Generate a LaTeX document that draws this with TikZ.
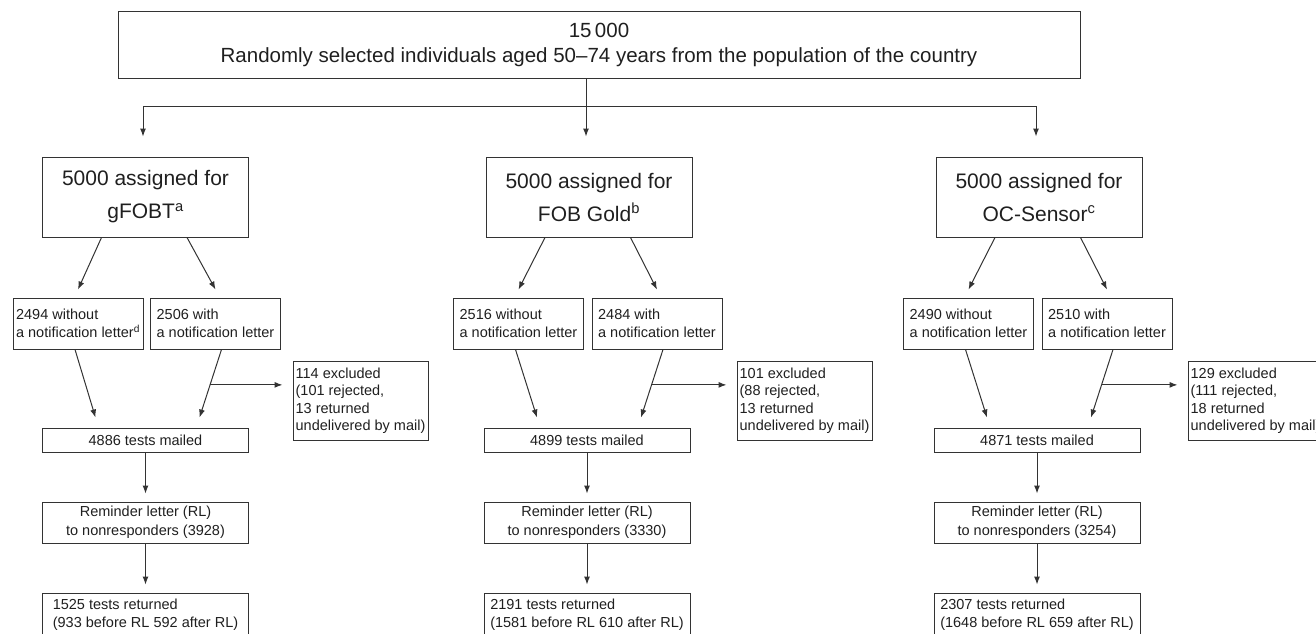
\documentclass[tikz,border=0pt]{standalone}
\usepackage{fontspec}
\setmainfont{Liberation Sans}
\usetikzlibrary{arrows.meta}

\begin{document}
\begin{tikzpicture}[x=1pt, y=-1pt,
  box/.style={draw=black!80, line width=1pt, text=black!88, inner sep=0pt, align=left},
  topbox/.style={box, align=center, minimum width=962pt, minimum height=67pt, font=\fontsize{20.5}{25}\selectfont},
  grpbox/.style={box, align=center, minimum width=206pt, minimum height=80pt, font=\fontsize{21}{33}\selectfont},
  subbox/.style={box, minimum width=130pt, minimum height=51pt, font=\fontsize{14.5}{18.5}\selectfont},
  exbox/.style={box, minimum width=135pt, minimum height=79pt, font=\fontsize{14.5}{17.5}\selectfont},
  mailbox/.style={box, minimum width=206pt, minimum height=24pt, font=\fontsize{14.5}{18}\selectfont},
  remindbox/.style={box, align=center, minimum width=206pt, minimum height=41pt, font=\fontsize{14.5}{19}\selectfont},
  retbox/.style={box, minimum width=206pt, minimum height=44pt, font=\fontsize{14.5}{18}\selectfont},
  line/.style={draw=black!80, line width=1pt},
  arr/.style={line, -{Latex[length=8pt,width=6pt]}}]
\useasboundingbox (0,0) rectangle (1316,633);
\clip (0,0) rectangle (1316,633);

% whole population
\node[topbox] (pop) at (599,44.5) {15\,000\\Randomly selected individuals aged 50--74 years from the population of the country};
\coordinate (split) at (586,106);

% gFOBT
\node[grpbox] (g1) at (145.5,197) {5000 assigned for\\gFOBT\textsuperscript{a}};
\node[subbox] (n1) at (78,323.5) {2494 without\\a notification letter\textsuperscript{d}};
\node[subbox] (w1) at (215.5,323.5) {2506 with\\a notification letter};
\node[exbox] (x1) at (360.5,400.5) {114 excluded\\(101 rejected,\\13 returned\\undelivered by mail)};
\node[mailbox] (m1) at (145.5,440) {4886 tests mailed};
\node[remindbox] (r1) at (145.5,522.5) {Reminder letter (RL)\\to nonresponders (3928)};
\node[retbox] (t1) at (145.5,615) {1525 tests returned\\(933 before RL 592 after RL)};

% FOB Gold
\node[grpbox] (g2) at (589,197) {5000 assigned for\\FOB Gold\textsuperscript{b}};
\node[subbox] (n2) at (518.5,323.5) {2516 without\\a notification letter};
\node[subbox] (w2) at (657,323.5) {2484 with\\a notification letter};
\node[exbox] (x2) at (804.5,400.5) {101 excluded\\(88 rejected,\\13 returned\\undelivered by mail)};
\node[mailbox] (m2) at (587,440) {4899 tests mailed};
\node[remindbox] (r2) at (587,522.5) {Reminder letter (RL)\\to nonresponders (3330)};
\node[retbox] (t2) at (587,615) {2191 tests returned\\(1581 before RL 610 after RL)};

% OC-Sensor
\node[grpbox] (g3) at (1039,197) {5000 assigned for\\OC-Sensor\textsuperscript{c}};
\node[subbox] (n3) at (968.5,323.5) {2490 without\\a notification letter};
\node[subbox] (w3) at (1107,323.5) {2510 with\\a notification letter};
\node[exbox] (x3) at (1255.5,400.5) {129 excluded\\(111 rejected,\\18 returned\\undelivered by mail)};
\node[mailbox] (m3) at (1037,440) {4871 tests mailed};
\node[remindbox] (r3) at (1037,522.5) {Reminder letter (RL)\\to nonresponders (3254)};
\node[retbox] (t3) at (1037,615) {2307 tests returned\\(1648 before RL 659 after RL)};

% randomisation
\draw[line] (pop.south -| split) -- (split);
\draw[arr] (split) -| ([xshift=-2.5pt,yshift=20pt]g1.north);
\draw[arr, shorten >=20pt] (split) -- (split |- g2.north);
\draw[arr] (split) -| ([xshift=-3pt,yshift=20pt]g3.north);

% letters, exclusions and mailing
\draw[arr] ([xshift=-44pt]g1.south) -- ([yshift=8pt]n1.north);
\draw[arr] ([xshift=41.5pt]g1.south) -- ([yshift=8pt]w1.north);
\draw[arr] ([xshift=-3pt]n1.south) -- ([xshift=-50pt,yshift=10pt]m1.north);
\draw[arr] ([xshift=6pt]w1.south) -- coordinate[pos=0.52] (b1) ([xshift=54pt,yshift=10pt]m1.north);
\draw[arr, shorten >=10pt] (b1) -- (b1 -| x1.west);
\draw[arr] (m1.south) -- ([yshift=8pt]r1.north);
\draw[arr] (r1.south) -- ([yshift=8pt]t1.north);

\draw[arr] ([xshift=-44pt]g2.south) -- ([yshift=8pt]n2.north);
\draw[arr] ([xshift=41.5pt]g2.south) -- ([yshift=8pt]w2.north);
\draw[arr] ([xshift=-3pt]n2.south) -- ([xshift=-50pt,yshift=10pt]m2.north);
\draw[arr] ([xshift=6pt]w2.south) -- coordinate[pos=0.52] (b2) ([xshift=54pt,yshift=10pt]m2.north);
\draw[arr, shorten >=10pt] (b2) -- (b2 -| x2.west);
\draw[arr] (m2.south) -- ([yshift=8pt]r2.north);
\draw[arr] (r2.south) -- ([yshift=8pt]t2.north);

\draw[arr] ([xshift=-44pt]g3.south) -- ([yshift=8pt]n3.north);
\draw[arr] ([xshift=41.5pt]g3.south) -- ([yshift=8pt]w3.north);
\draw[arr] ([xshift=-3pt]n3.south) -- ([xshift=-50pt,yshift=10pt]m3.north);
\draw[arr] ([xshift=6pt]w3.south) -- coordinate[pos=0.52] (b3) ([xshift=54pt,yshift=10pt]m3.north);
\draw[arr, shorten >=10pt] (b3) -- (b3 -| x3.west);
\draw[arr] (m3.south) -- ([yshift=8pt]r3.north);
\draw[arr] (r3.south) -- ([yshift=8pt]t3.north);
\end{tikzpicture}
\end{document}
